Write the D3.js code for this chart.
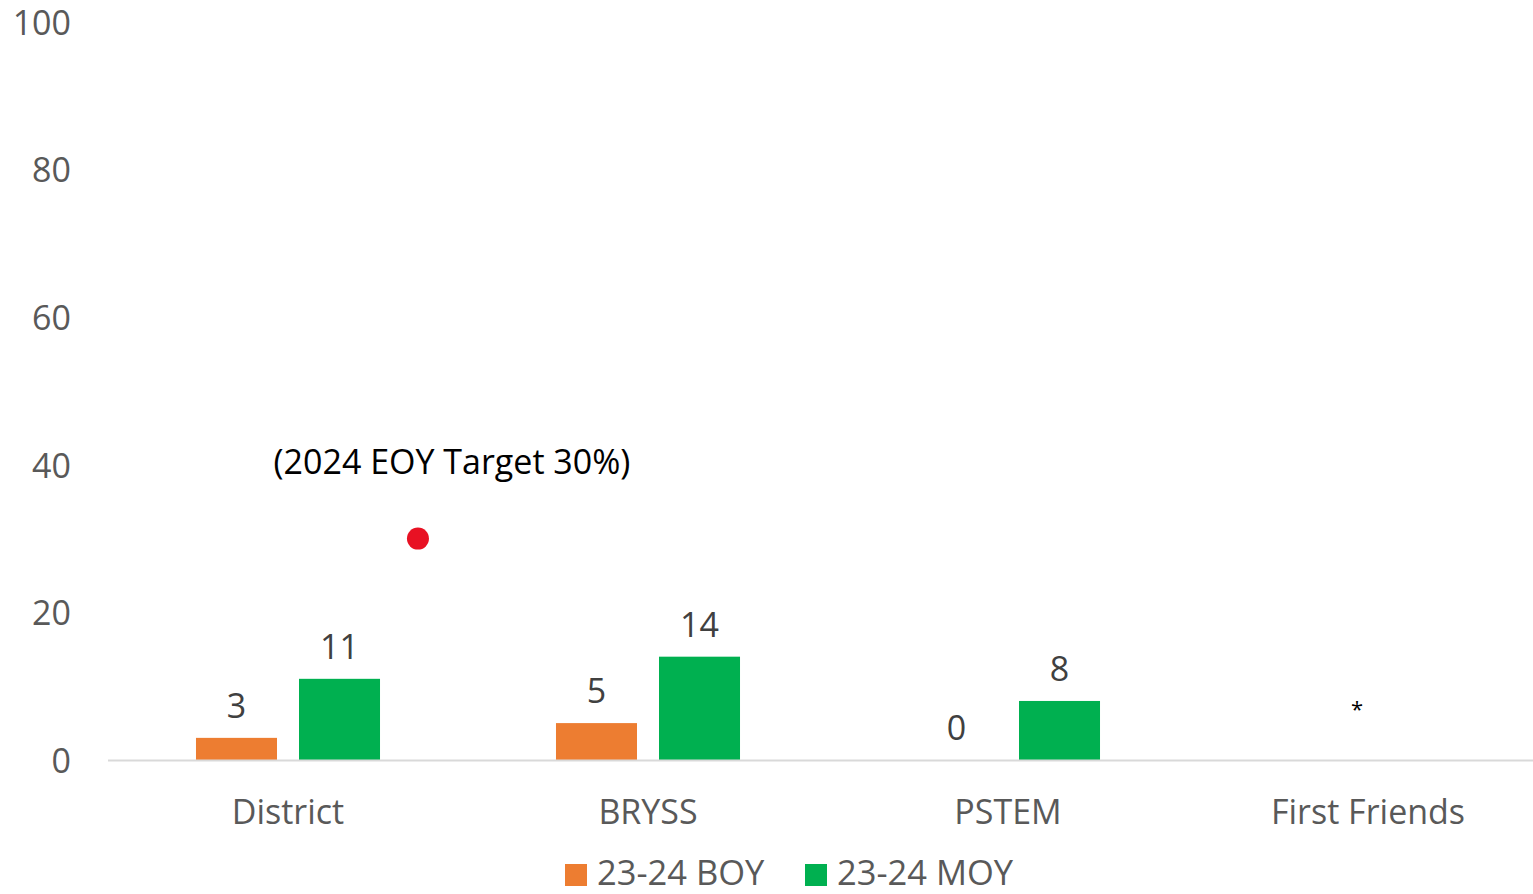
<!DOCTYPE html>
<html>
<head>
<meta charset="utf-8">
<script src="https://cdn.jsdelivr.net/npm/d3@7"></script>
<style>
  html, body { margin: 0; padding: 0; background: #fff; overflow: hidden; }
  svg { display: block; font-family: "Open Sans", sans-serif; }
</style>
</head>
<body>
<svg id="chart" width="1533" height="894"></svg>
<script>
// ---- data ----
const categories = ["District", "BRYSS", "PSTEM", "First Friends"];
const seriesNames = ["23-24 BOY", "23-24 MOY"];
const boyValues = [3, 5, 0, null];
const moyValues = [11, 14, 8, null];
const yTicks = [0, 20, 40, 60, 80, 100];
const targetValue = 30;
const targetLabel = "(2024 EOY Target 30%)";
const missingMark = "*";
const seriesColors = ["#ED7D31", "#00B050"];

const svg = d3.select("#chart");
const W = 1533, H = 894;

const x = d3.scaleBand().domain(categories).range([108, 1548]).padding(0);
const bw = x.bandwidth();
const xs = d3.scaleBand().domain(seriesNames)
  .range([bw * 0.2444, bw * 0.7556]).paddingInner(0.2136).paddingOuter(0);
const y = d3.scaleLinear().domain([0, 100]).range([760, 22]);

const textGray = "#595959";

// y axis labels
const yAxis = d3.axisLeft(y).tickValues(yTicks).tickSize(0).tickPadding(0);
const gy = svg.append("g").attr("transform", "translate(71,0)").call(yAxis);
gy.select(".domain").remove();
gy.selectAll("text")
  .attr("fill", textGray)
  .style("font-size", "34px")
  .style("font-family", "'Open Sans', sans-serif")
  .attr("dy", "0.36em");

// bars
const rows = categories.map((c, i) => ({ c, vals: [boyValues[i], moyValues[i]] }));
const groups = svg.append("g").selectAll("g").data(rows).join("g")
  .attr("transform", d => `translate(${x(d.c)},0)`);

groups.selectAll("rect")
  .data(d => d.vals.map((v, j) => ({ s: seriesNames[j], v, j })).filter(e => e.v !== null))
  .join("rect")
  .attr("x", e => xs(e.s))
  .attr("width", xs.bandwidth())
  .attr("y", e => y(e.v))
  .attr("height", e => y(0) - y(e.v))
  .attr("fill", e => seriesColors[e.j]);

groups.selectAll("text.val")
  .data(d => d.vals.map((v, j) => ({ s: seriesNames[j], v, j })).filter(e => e.v !== null))
  .join("text")
  .attr("class", "val")
  .attr("x", e => xs(e.s) + xs.bandwidth() / 2)
  .attr("y", e => y(e.v) - 20)
  .attr("text-anchor", "middle")
  .attr("fill", "#404040")
  .style("font-size", "34px")
  .text(e => e.v);

// missing data marker
rows.forEach(r => {
  if (r.vals.every(v => v === null)) {
    svg.append("text")
      .attr("x", x(r.c) + bw / 2 - 11)
      .attr("y", 717)
      .attr("text-anchor", "middle")
      .attr("fill", "#000")
      .style("font-size", "22px")
      .text(missingMark);
  }
});

// x axis line
svg.append("line")
  .attr("x1", 108).attr("x2", W)
  .attr("y1", y(0) + 0.5).attr("y2", y(0) + 0.5)
  .attr("stroke", "#D9D9D9").attr("stroke-width", 2);

// category labels
svg.append("g").selectAll("text").data(categories).join("text")
  .attr("x", d => x(d) + bw / 2)
  .attr("y", 824)
  .attr("text-anchor", "middle")
  .attr("fill", textGray)
  .style("font-size", "34px")
  .text(d => d);

// target point
const tx = x("District") + bw * 0.861;
svg.append("circle")
  .attr("cx", tx).attr("cy", y(targetValue))
  .attr("r", 11)
  .attr("fill", "#E81123");
svg.append("text")
  .attr("x", tx + 34)
  .attr("y", 474)
  .attr("text-anchor", "middle")
  .attr("fill", "#000")
  .style("font-size", "34px")
  .text(targetLabel);

// legend
const legend = svg.append("g");
const legX = [565, 805];
seriesNames.forEach((s, i) => {
  legend.append("rect")
    .attr("x", legX[i]).attr("y", 864)
    .attr("width", 22).attr("height", 22)
    .attr("fill", seriesColors[i]);
  legend.append("text")
    .attr("x", legX[i] + 32).attr("y", 885)
    .attr("fill", textGray)
    .style("font-size", "34.5px")
    .text(s);
});
</script>
</body>
</html>
